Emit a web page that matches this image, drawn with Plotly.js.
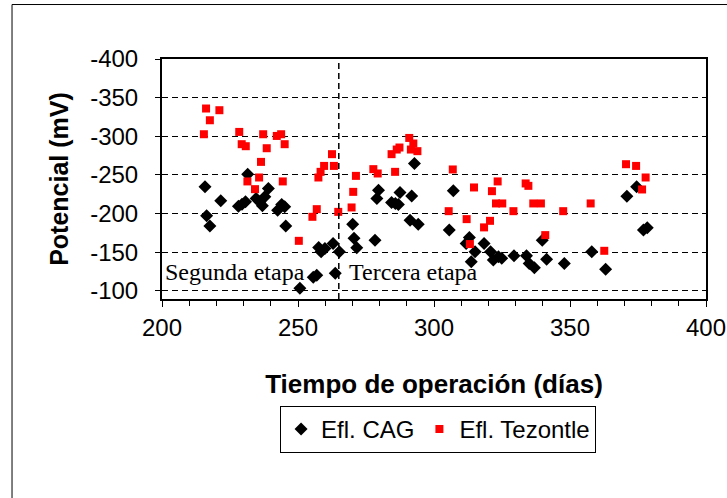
<!DOCTYPE html>
<html>
<head>
<meta charset="utf-8">
<script src="https://cdn.plot.ly/plotly-3.0.1.min.js"></script>
<style>html,body{margin:0;padding:0;background:#fff;}#chart{width:727px;height:498px;}</style>
</head>
<body>
<div id="chart"></div>
<script>
// Efl. CAG (black diamonds)
const cagDays = [215.8, 216.4, 217.6, 221.6, 231.5, 228.1, 229.4, 230.7, 234.6, 236.0, 236.9, 237.8, 239.1,
  242.5, 244.0, 245.1, 245.5, 250.7, 255.6, 256.9, 257.6, 258.5, 259.9, 262.9, 263.7, 265.2,
  270.1, 270.6, 271.6, 278.3, 279.0, 279.6, 284.4, 285.8, 286.9, 287.5, 291.8, 292.8, 291.2, 294.2,
  305.6, 307.1, 313.0, 311.8, 315.1, 313.7, 318.4, 320.8, 321.8, 323.7, 324.9, 329.4, 334.0, 335.0,
  336.9, 339.8, 341.4, 347.9, 358.0, 363.1, 370.9, 374.5, 377.0, 378.4];
const cagValues = [-234.5, -197, -183.7, -216.4, -250.9, -209.5, -212.1, -215.3, -219.5, -215.1, -210, -221.6, -232.4,
  -204.3, -211.7, -208.6, -183.7, -103.1, -117.3, -119.9, -156.1, -150.4, -154.8, -161.3, -122.5, -150.4,
  -186.2, -168.1, -155.6, -165.5, -219.5, -230.2, -214.3, -213, -211.7, -227.2, -222.8, -264.7, -191.4, -186.2,
  -178.5, -229.3, -169, -161.3, -150.4, -137.5, -161.3, -150.4, -139.7, -144, -141.9, -145.2, -145.2, -135.4,
  -129.7, -165.5, -140.6, -135.4, -150.4, -127.7, -222.4, -234.5, -178.5, -181.5];

// Efl. Tezontle (red squares)
const tezDays = [216.2, 217.6, 221.1, 215.4, 228.4, 229.3, 230.8, 237.2, 238.5, 242.2, 243.8, 245.1, 236.4, 235.7,
  231.4, 234.2, 244.4, 250.3, 255.3, 256.9, 257.5, 258.3, 259.6, 262.5, 263.2, 264.8, 271.3, 270.3, 269.7,
  277.7, 279.3, 284.4, 286.3, 287.3, 285.7, 290.9, 292.4, 291.5, 293.9, 306.9, 305.4, 312.0, 313.2, 314.7,
  318.4, 320.6, 321.3, 323.4, 322.8, 325.1, 329.2, 333.7, 334.7, 336.5, 339.3, 340.9, 347.5, 357.6, 362.6,
  370.6, 374.3, 377.8, 376.5];
const tezValues = [-335.9, -320.7, -333.7, -302.6, -305.6, -289.7, -287.1, -302.6, -284.5, -300.4, -302.6, -289.7, -266.8, -246.6,
  -241.5, -231.5, -241.5, -164.6, -195.7, -205.6, -246.6, -253.9, -261.6, -276.8, -261.6, -202.1, -248.7, -228, -207.8,
  -257.4, -251.8, -276.8, -282.8, -285.4, -253.9, -297.8, -290.6, -282.8, -280.7, -257, -203, -192.7, -160.4, -233.7,
  -182, -190.5, -228.9, -241.5, -213, -213, -203, -238.9, -235.8, -213, -213, -172, -203, -213, -151.7,
  -263.8, -261.6, -246.6, -231.1];

const seriesNames = ["Efl. CAG", "Efl. Tezontle"];
const yTickVals = [-400, -350, -300, -250, -200, -150, -100];
const yTickText = ["-400", "-350", "-300", "-250", "-200", "-150", "-100"];
const stageDay = 265;
const stageLabels = ["Segunda etapa", "Tercera etapa"];
const xTitle = "Tiempo de operación (días)";
const yTitle = "Potencial (mV)";

const sans = "Liberation Sans, Arial, sans-serif";
const serif = "Liberation Serif, Times New Roman, serif";

const traces = [
  {x: cagDays, y: cagValues, name: seriesNames[0], type: "scatter", mode: "markers",
   marker: {symbol: "diamond", size: 10, color: "#000000"}},
  {x: tezDays, y: tezValues, name: seriesNames[1], type: "scatter", mode: "markers",
   marker: {symbol: "square", size: 8, color: "#ff0000"}}
];

const layout = {
  width: 727, height: 498,
  margin: {l: 162, r: 21, t: 59, b: 199},
  paper_bgcolor: "#ffffff", plot_bgcolor: "#ffffff",
  font: {family: sans, color: "#000000", size: 24},
  showlegend: true,
  legend: {orientation: "h", x: 0.217, y: -0.445, xanchor: "left", yanchor: "top",
    bordercolor: "#000000", borderwidth: 1, font: {size: 24, family: sans},
    itemwidth: 30, tracegroupgap: 0},
  xaxis: {
    range: [200, 400], tick0: 200, dtick: 50, ticks: "outside", ticklen: 6, tickwidth: 1,
    tickcolor: "#000", showline: true, linewidth: 2, linecolor: "#000", mirror: true,
    showgrid: false, zeroline: false, tickfont: {size: 24, family: sans},
    minor: {dtick: 10, ticks: "outside", ticklen: 5, tickcolor: "#000", showgrid: false},
    title: {text: xTitle, font: {size: 26, family: sans, weight: "bold"}, standoff: 35}
  },
  yaxis: {
    range: [-89.3, -400], tickmode: "array", tickvals: yTickVals, ticktext: yTickText,
    ticks: "outside", ticklen: 5, tickwidth: 1,
    tickcolor: "#000", showline: true, linewidth: 2, linecolor: "#000", mirror: true,
    showgrid: true, gridcolor: "#000", gridwidth: 1, griddash: "6px,4px", zeroline: false,
    tickfont: {size: 24, family: sans}, ticklabelstandoff: 12,
    title: {text: yTitle, font: {size: 25, family: sans, weight: "bold"}, standoff: 14}
  },
  shapes: [
    {type: "line", xref: "x", yref: "paper", x0: stageDay, x1: stageDay, y0: 0, y1: 1,
     line: {color: "#000", width: 1.5, dash: "6px,4px"}},
    {type: "rect", xref: "paper", yref: "paper", x0: -0.2757, x1: 1.2, y0: -1.2, y1: 1.227,
     line: {color: "#000", width: 1}, fillcolor: "rgba(0,0,0,0)", layer: "below"}
  ],
  annotations: [
    {text: stageLabels[0], xref: "x", yref: "y", x: 200.2, y: -124.2, xanchor: "left", yanchor: "middle",
     showarrow: false, font: {family: serif, size: 24, color: "#000"}},
    {text: stageLabels[1], xref: "x", yref: "y", x: 268.0, y: -124.2, xanchor: "left", yanchor: "middle",
     showarrow: false, font: {family: serif, size: 24, color: "#000"}}
  ]
};

Plotly.newPlot("chart", traces, layout, {staticPlot: true, displayModeBar: false});
</script>
</body>
</html>
